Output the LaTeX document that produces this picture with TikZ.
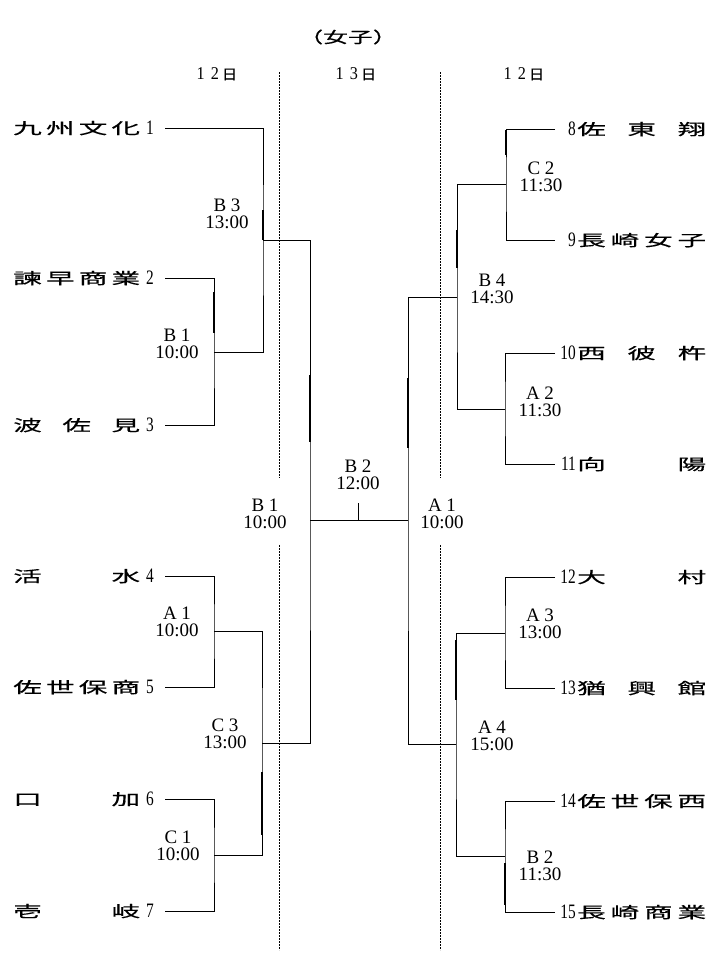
\documentclass[tikz,border=0pt]{standalone}
\usepackage{fontspec}
\usepackage{graphicx}
\setmainfont{Liberation Serif}
\newfontfamily\jp[FakeBold=0.35]{Noto Sans CJK JP}
\newcommand{\wj}[1]{\scalebox{1.85}[1]{#1}}
\newcommand{\nd}[1]{\scalebox{0.75}[1]{#1}}
\newcommand{\nmL}[1]{\hbox to 127pt{#1}}
\newcommand{\nmR}[1]{\hbox to 129pt{#1}}
\newcommand{\dayhdr}[1]{\scalebox{0.9}[1]{1}\hspace{6pt}\scalebox{0.9}[1]{#1}\hspace{3pt}{\jp\fontsize{14}{14}\selectfont\scalebox{1.1}[1]{日}}}
\tikzset{
  br/.style={line width=0.9pt},
  hl/.style={line width=2.4pt},
  dotline/.style={line width=0.85pt, dash pattern=on 1.8pt off 1.2pt},
  tn/.style={anchor=base west, inner sep=0pt, font=\jp\fontsize{15.5}{18}\selectfont},
  tdl/.style={anchor=base west, inner sep=0pt, font=\fontsize{20.5}{20}\selectfont},
  tdr/.style={anchor=base east, inner sep=0pt, font=\fontsize{20.5}{20}\selectfont},
  lbl/.style={inner sep=0pt, align=center, font=\fontsize{19}{17.5}\selectfont},
  hdr/.style={inner sep=0pt, font=\fontsize{18}{18}\selectfont},
}
\begin{document}
\begin{tikzpicture}[x=1pt,y=-1pt]
\useasboundingbox (0,0) rectangle (720,961);
\fill[white] (0,0) rectangle (720,961);

% title and headers
\node[inner sep=0pt, font=\jp\fontsize{15.5}{16}\selectfont] (title) at (348,37) {\scalebox{1.6}[1]{（女子）}};
\node[hdr] (h1) at (217,74) {\dayhdr{2}};
\node[hdr] (h2) at (356,74) {\dayhdr{3}};
\node[hdr] (h3) at (524,74) {\dayhdr{2}};

% dotted day separators
\coordinate (da1) at (279,72);  \coordinate (da2) at (279,478);
\coordinate (da3) at (279,545); \coordinate (da4) at (279,950);
\coordinate (db1) at (440,72);  \coordinate (db2) at (440,478);
\coordinate (db3) at (440,545); \coordinate (db4) at (440,950);
\draw[dotline] (da1) -- (da2) (da3) -- (da4) (db1) -- (db2) (db3) -- (db4);

% left teams
\node[tn] (n1) at (13,134) {\nmL{\wj{九}\hfill\wj{州}\hfill\wj{文}\hfill\wj{化}}};
\node[tdl] (d1) at (146,134) {\nd{1}};
\node[tn] (n2) at (13,284) {\nmL{\wj{諫}\hfill\wj{早}\hfill\wj{商}\hfill\wj{業}}};
\node[tdl] (d2) at (146,284) {\nd{2}};
\node[tn] (n3) at (13,431) {\nmL{\wj{波}\hfill\wj{佐}\hfill\wj{見}}};
\node[tdl] (d3) at (146,431) {\nd{3}};
\node[tn] (n4) at (13,582) {\nmL{\wj{活}\hfill\wj{水}}};
\node[tdl] (d4) at (146,582) {\nd{4}};
\node[tn] (n5) at (13,693) {\nmL{\wj{佐}\hfill\wj{世}\hfill\wj{保}\hfill\wj{商}}};
\node[tdl] (d5) at (146,693) {\nd{5}};
\node[tn] (n6) at (13,805) {\nmL{\wj{口}\hfill\wj{加}}};
\node[tdl] (d6) at (146,805) {\nd{6}};
\node[tn] (n7) at (13,917) {\nmL{\wj{壱}\hfill\wj{岐}}};
\node[tdl] (d7) at (146,917) {\nd{7}};

% right teams
\node[tdr] (d8) at (576,135) {\nd{8}};
\node[tn] (n8) at (577,135) {\nmR{\wj{佐}\hfill\wj{東}\hfill\wj{翔}}};
\node[tdr] (d9) at (576,246) {\nd{9}};
\node[tn] (n9) at (577,246) {\nmR{\wj{長}\hfill\wj{崎}\hfill\wj{女}\hfill\wj{子}}};
\node[tdr] (d10) at (576,359) {\nd{10}};
\node[tn] (n10) at (577,359) {\nmR{\wj{西}\hfill\wj{彼}\hfill\wj{杵}}};
\node[tdr] (d11) at (576,470) {\nd{11}};
\node[tn] (n11) at (577,470) {\nmR{\wj{向}\hfill\wj{陽}}};
\node[tdr] (d12) at (576,583) {\nd{12}};
\node[tn] (n12) at (577,583) {\nmR{\wj{大}\hfill\wj{村}}};
\node[tdr] (d13) at (576,694) {\nd{13}};
\node[tn] (n13) at (577,694) {\nmR{\wj{猶}\hfill\wj{興}\hfill\wj{館}}};
\node[tdr] (d14) at (576,807) {\nd{14}};
\node[tn] (n14) at (577,807) {\nmR{\wj{佐}\hfill\wj{世}\hfill\wj{保}\hfill\wj{西}}};
\node[tdr] (d15) at (576,918) {\nd{15}};
\node[tn] (n15) at (577,918) {\nmR{\wj{長}\hfill\wj{崎}\hfill\wj{商}\hfill\wj{業}}};

% line ends at teams
\coordinate (s1) at (165,128);
\coordinate (s2) at (165,278);
\coordinate (s3) at (165,425);
\coordinate (s4) at (165,576);
\coordinate (s5) at (165,687);
\coordinate (s6) at (165,799);
\coordinate (s7) at (165,911);
\coordinate (e8) at (555,129);
\coordinate (e9) at (555,240);
\coordinate (e10) at (555,353);
\coordinate (e11) at (555,464);
\coordinate (e12) at (555,577);
\coordinate (e13) at (555,688);
\coordinate (e14) at (555,801);
\coordinate (e15) at (555,912);

% match junctions
\coordinate (mB1) at (214,352);
\coordinate (mB3) at (263,240);
\coordinate (mA1) at (214,631);
\coordinate (mC1) at (214,855);
\coordinate (mC3) at (262,743);
\coordinate (mL) at (310,520);
\coordinate (mR) at (408,520);
\coordinate (mC2) at (506,184);
\coordinate (mA2) at (505,409);
\coordinate (mB4) at (457,297);
\coordinate (mA3) at (505,633);
\coordinate (mB2) at (505,856);
\coordinate (mA4) at (456,744);
\coordinate (tk1) at (358,503);
\coordinate (tk2) at (358,520);

% bracket lines, left
\draw[br] (s2) -| (mB1) |- (s3);
\draw[br] (s1) -| (mB3) |- (mB1);
\draw[br] (s4) -| (mA1) |- (s5);
\draw[br] (s6) -| (mC1) |- (s7);
\draw[br] (mA1) -| (mC3) |- (mC1);
\draw[br] (mB3) -| (mL) |- (mC3);
% final
\draw[br] (mL) -- (mR);
\draw[br] (tk1) -- (tk2);
% bracket lines, right
\draw[br] (e8) -| (mC2) |- (e9);
\draw[br] (e10) -| (mA2) |- (e11);
\draw[br] (mC2) -| (mB4) |- (mA2);
\draw[br] (e12) -| (mA3) |- (e13);
\draw[br] (e14) -| (mB2) |- (e15);
\draw[br] (mA3) -| (mA4) |- (mB2);
\draw[br] (mB4) -| (mR) |- (mA4);

% thicker stretches
\draw[hl] (263,210) -- (263,240);
\draw[hl] (214,292) -- (214,333);
\draw[hl] (310,375) -- (310,442);
\draw[hl] (262,772) -- (262,835);
\draw[hl] (506,130) -- (506,155);
\draw[hl] (457,230) -- (457,268);
\draw[hl] (408,378) -- (408,448);
\draw[line width=1.6pt] (456,640) -- (456,700);
\draw[hl] (505,863) -- (505,905);

% match labels
\node[lbl] (lB3) at (227,214) {B 3\\13:00};
\node[lbl] (lB1) at (177,344) {B 1\\10:00};
\node[lbl] (lA1) at (177,622) {A 1\\10:00};
\node[lbl] (lC3) at (225,734) {C 3\\13:00};
\node[lbl] (lC1) at (178,846) {C 1\\10:00};
\node[lbl] (lB1c) at (265,514) {B 1\\10:00};
\node[lbl] (lB2c) at (358,475) {B 2\\12:00};
\node[lbl] (lA1c) at (442,514) {A 1\\10:00};
\node[lbl] (lC2) at (541,177) {C 2\\11:30};
\node[lbl] (lB4) at (492,289) {B 4\\14:30};
\node[lbl] (lA2) at (540,402) {A 2\\11:30};
\node[lbl] (lA3) at (540,624) {A 3\\13:00};
\node[lbl] (lA4) at (492,736) {A 4\\15:00};
\node[lbl] (lB2) at (540,866) {B 2\\11:30};
\end{tikzpicture}
\end{document}
